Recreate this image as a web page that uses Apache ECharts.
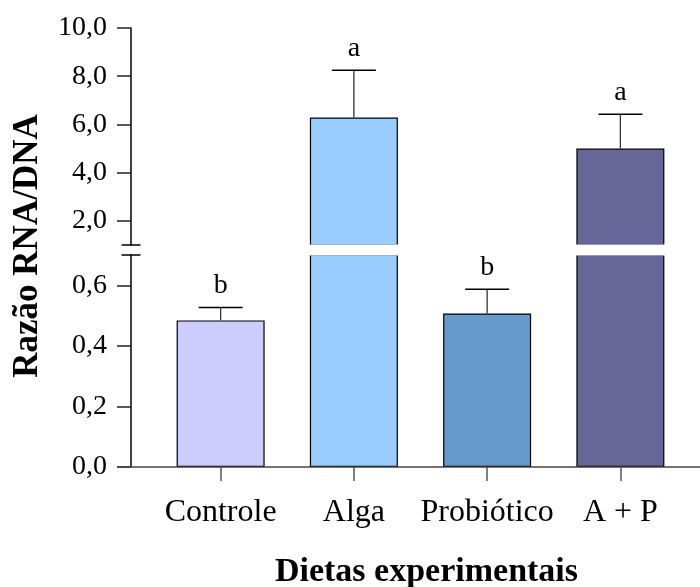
<!DOCTYPE html>
<html>
<head>
<meta charset="utf-8">
<script src="https://cdn.jsdelivr.net/npm/echarts@6/dist/echarts.min.js"></script>
<style>html,body{margin:0;padding:0;background:#fff;}#c{width:700px;height:587px;}</style>
</head>
<body>
<div id="c"></div>
<script>
const categories = ['Controle', 'Alga', 'Probiótico', 'A + P'];
const means = [0.484, 6.29, 0.507, 5.0];
const errTops = [0.527, 8.25, 0.587, 6.42];
const letters = ['b', 'a', 'b', 'a'];
const colors = ['#CCCCFF', '#99CCFF', '#6699CC', '#666699'];
const upperTicks = [2, 4, 6, 8, 10];
const lowerTicks = [0, 0.2, 0.4, 0.6];
const upperMin = 1, upperMax = 10;
const lowerMin = 0, lowerMax = 0.7;

const FONT = '"Liberation Serif", "Times New Roman", serif';
const fmt = v => v.toFixed(1).replace('.', ',');

const chart = echarts.init(document.getElementById('c'), null, {renderer: 'canvas'});

function barData(inUpper) {
  return means.map((v, i) => ({
    value: inUpper ? (v > upperMin ? v : '-') : v,
    itemStyle: {color: colors[i]}
  }));
}
function errData(inUpper) {
  return means.map((v, i) => {
    const show = inUpper ? v > upperMin : v <= lowerMax;
    return show ? [i, v, errTops[i]] : [i, '-', '-'];
  });
}
function renderErr(params, api) {
  const m = api.value(1), t = api.value(2);
  if (isNaN(m)) return;
  const x = api.value(0);
  const p0 = api.coord([x, m]);
  const p1 = api.coord([x, t]);
  const hw = 22;
  return {
    type: 'group',
    children: [
      {type: 'line', shape: {x1: p0[0], y1: p0[1], x2: p1[0], y2: p1[1]}, style: {stroke: '#333', lineWidth: 1.3}},
      {type: 'line', shape: {x1: p1[0] - hw, y1: p1[1], x2: p1[0] + hw, y2: p1[1]}, style: {stroke: '#000', lineWidth: 1.5}},
      {type: 'text', x: p1[0], y: p1[1] - 8, style: {text: letters[params.dataIndex], font: '28px ' + FONT, fill: '#000', align: 'center', verticalAlign: 'bottom'}}
    ]
  };
}

const yCommon = {
  type: 'value',
  offset: 23,
  splitLine: {show: false},
  axisLine: {show: true, lineStyle: {color: '#000', width: 1.5}},
  axisTick: {show: true, length: 14, lineStyle: {color: '#222', width: 1.5}},
  axisLabel: {color: '#000', fontFamily: FONT, fontSize: 28, margin: 24, formatter: fmt}
};

const option = {
  backgroundColor: '#fff',
  animation: false,
  grid: [
    {left: 154, right: 13, top: 28, height: 217, containLabel: false, outerBoundsMode: 'none'},
    {left: 154, right: 13, top: 255, height: 212, containLabel: false, outerBoundsMode: 'none'}
  ],
  xAxis: [
    {type: 'category', gridIndex: 0, data: categories, show: false},
    {type: 'category', gridIndex: 1, data: categories,
      axisLine: {show: false},
      axisTick: {show: true, alignWithLabel: true, length: 14, lineStyle: {color: '#555', width: 1.5}},
      axisLabel: {color: '#000', fontFamily: FONT, fontSize: 32, margin: 30, interval: 0, hideOverlap: false},
      name: 'Dietas experimentais', nameLocation: 'middle', nameGap: 88,
      nameTextStyle: {color: '#000', fontFamily: FONT, fontSize: 34, fontWeight: 'bold', padding: [0, 0, 0, 12]}
    }
  ],
  yAxis: [
    Object.assign({}, yCommon, {gridIndex: 0, min: upperMin, max: upperMax,
      axisLine: {show: true, symbol: ['rect', 'none'], symbolSize: [19, 1.5], lineStyle: {color: '#000', width: 1.5}},
      axisTick: Object.assign({}, yCommon.axisTick, {customValues: upperTicks}),
      axisLabel: Object.assign({}, yCommon.axisLabel, {customValues: upperTicks})}),
    Object.assign({}, yCommon, {gridIndex: 1, min: lowerMin, max: lowerMax,
      axisLine: {show: true, symbol: ['none', 'rect'], symbolSize: [19, 1.5], lineStyle: {color: '#000', width: 1.5}},
      axisTick: Object.assign({}, yCommon.axisTick, {customValues: lowerTicks}),
      axisLabel: Object.assign({}, yCommon.axisLabel, {customValues: lowerTicks})})
  ],
  series: [
    {type: 'bar', xAxisIndex: 0, yAxisIndex: 0, barWidth: 88, clip: true,
      itemStyle: {borderColor: '#000', borderWidth: 1.2}, data: barData(true)},
    {type: 'bar', xAxisIndex: 1, yAxisIndex: 1, barWidth: 88, clip: true,
      itemStyle: {borderColor: '#000', borderWidth: 1.2}, data: barData(false)},
    {type: 'custom', xAxisIndex: 0, yAxisIndex: 0, clip: false, z: 5, renderItem: renderErr, data: errData(true)},
    {type: 'custom', xAxisIndex: 1, yAxisIndex: 1, clip: false, z: 5, renderItem: renderErr, data: errData(false)}
  ]
};
chart.setOption(option);

const y0 = chart.convertToPixel({yAxisIndex: 1}, 0);
const yBreakTop = chart.convertToPixel({yAxisIndex: 0}, upperMin);
const yBreakBot = chart.convertToPixel({yAxisIndex: 1}, lowerMax);
chart.setOption({
  graphic: [
    {type: 'rect', z: 8, shape: {x: 150, y: yBreakTop - 0.5, width: 560, height: yBreakBot - yBreakTop + 1}, style: {fill: '#fff'}},
    {type: 'line', z: 10, shape: {x1: 117, y1: y0, x2: 700, y2: y0}, style: {stroke: '#444', lineWidth: 1.5}},
    {type: 'text', x: 28, y: 246, rotation: Math.PI / 2,
      style: {text: 'Razão RNA/DNA', font: 'bold 35px ' + FONT, fill: '#000', align: 'center', verticalAlign: 'middle'}}
  ]
});
</script>
</body>
</html>
